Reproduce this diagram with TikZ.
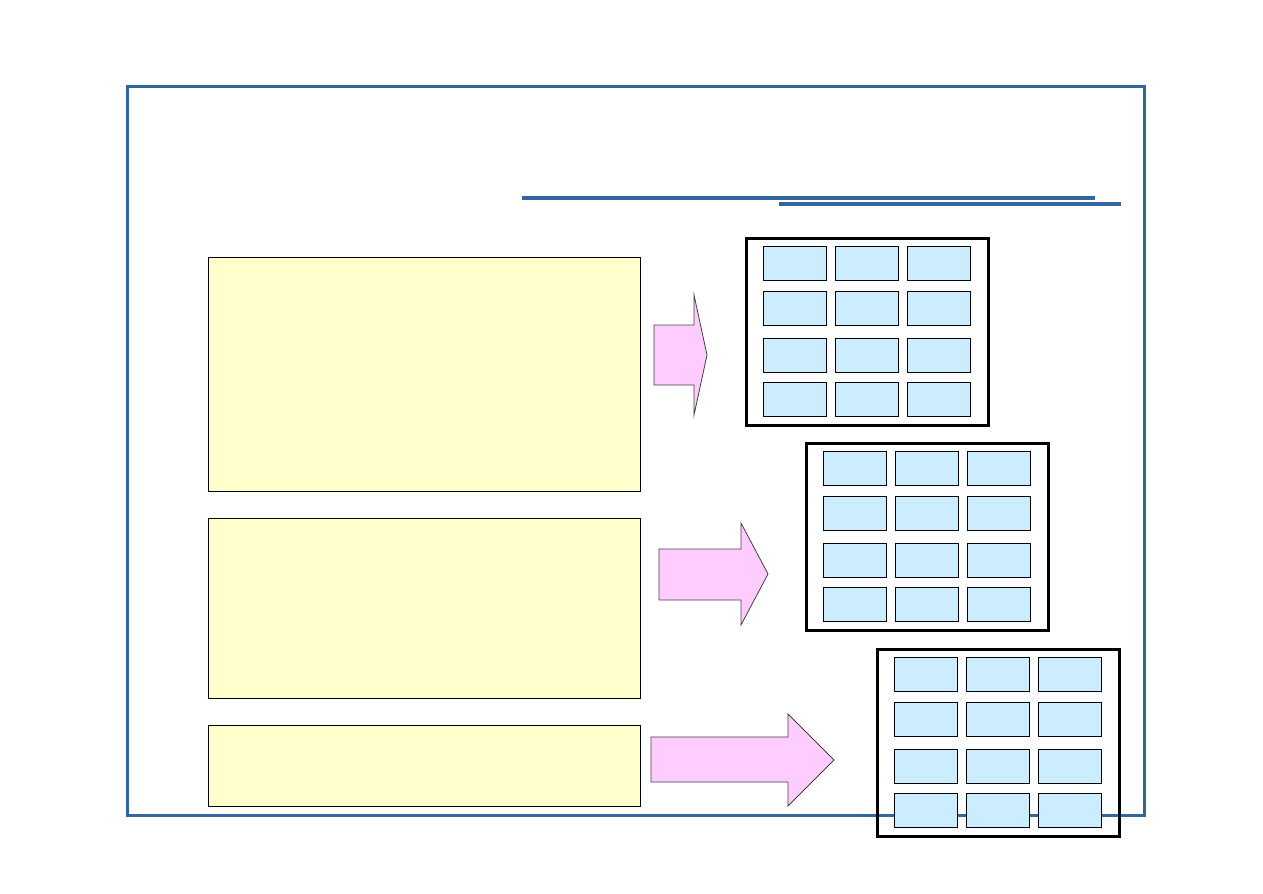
\documentclass[tikz,border=0pt]{standalone}
\usetikzlibrary{positioning}
\definecolor{frameblue}{HTML}{336699}
\definecolor{noteyellow}{HTML}{FFFFCC}
\definecolor{arrowpink}{HTML}{FFCCFF}
\definecolor{cellblue}{HTML}{CCECFF}
\tikzset{
  notebox/.style={draw=black, fill=noteyellow, line width=0.5pt, anchor=north west,
    inner sep=0pt, outer sep=0pt, minimum width=324pt},
  panel/.style={draw=black, line width=2.25pt, anchor=north west,
    inner sep=0pt, outer sep=0pt, minimum width=181.5pt, minimum height=140.25pt},
  cell/.style={draw=black, fill=cellblue, line width=0.7pt, anchor=north west,
    inner sep=0pt, outer sep=0pt, minimum width=47.25pt, minimum height=25.5pt},
  blockarrow/.style={draw=black!75, fill=arrowpink, line width=0.6pt, line join=miter},
}

\begin{document}
\begin{tikzpicture}[x=0.75pt, y=-0.75pt]
  \useasboundingbox (0,0) rectangle (1263,893);
  % frame and title rules
  \draw[frameblue, line width=2.25pt] (127,86) rectangle (1144,815);
  \fill[frameblue] (522,196) rectangle (1095,200);
  \fill[frameblue] (779,202) rectangle (1121,206);
  % notes
  \node[notebox, minimum height=175.5pt] (note1) at (208,257) {};
  \node[notebox, minimum height=135pt] (note2) at (208,518) {};
  \node[notebox, minimum height=60.75pt] (note3) at (208,725) {};
  % block arrows
  \draw[blockarrow] (654,325) -- (694,325) -- (694,295) -- (707,355) -- (694,415)
    -- (694,385) -- (654,385) -- cycle;
  \draw[blockarrow] (659,549) -- (741,549) -- (741,523) -- (768,574) -- (741,625)
    -- (741,600) -- (659,600) -- cycle;
  \draw[blockarrow] (651,737) -- (788,737) -- (788,714) -- (834,760) -- (788,806)
    -- (788,782) -- (651,782) -- cycle;
  % panels of cells
  \foreach \n/\px/\py in {1/745/237, 2/805/442, 3/876/648} {
    \node[panel] (panel\n) at ({\px+1},{\py+1}) {};
    \foreach \r/\dy in {1/0, 2/45, 3/92, 4/136}
      \foreach \c in {1,2,3}
        \node[cell] (cell\n-\r-\c) at ({\px+18+72*(\c-1)}, {\py+9+\dy}) {};
  }
\end{tikzpicture}
\end{document}
